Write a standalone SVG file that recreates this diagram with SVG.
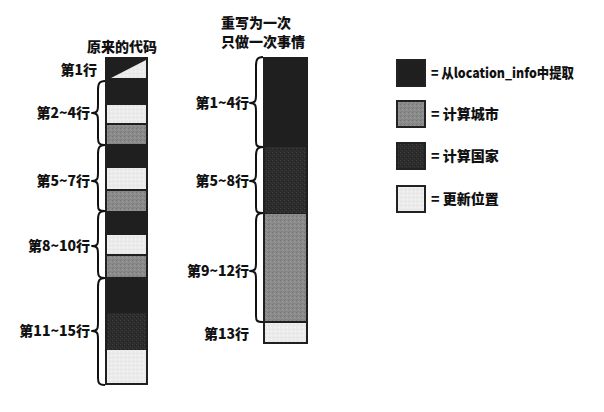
<svg xmlns="http://www.w3.org/2000/svg" width="604" height="412" viewBox="0 0 604 412">
<style>
text{font-family:"Noto Sans CJK SC","Noto Sans",sans-serif;font-weight:900;font-size:14px;fill:#111}
.lab{text-anchor:end}
.brace{fill:none;stroke:#111;stroke-width:2;stroke-linejoin:round}
.col{fill:#1f1f1f}
.leg{stroke:#222;stroke-width:2}
</style>
<defs>
<pattern id="pCity" width="4" height="4" patternUnits="userSpaceOnUse">
<rect width="4" height="4" fill="#8a8a8a"/>
<rect x="0" y="0" width="1" height="1" fill="#737373"/>
<rect x="2" y="1" width="1" height="1" fill="#9c9c9c"/>
<rect x="1" y="3" width="1" height="1" fill="#7c7c7c"/>
<rect x="3" y="2" width="1" height="1" fill="#959595"/>
</pattern>
<pattern id="pCountry" width="4" height="4" patternUnits="userSpaceOnUse">
<rect width="4" height="4" fill="#2c2c2c"/>
<rect x="0" y="0" width="1" height="1" fill="#404040"/>
<rect x="2" y="2" width="1" height="1" fill="#393939"/>
<rect x="3" y="1" width="1" height="1" fill="#202020"/>
</pattern>
<pattern id="pUpd" width="4" height="4" patternUnits="userSpaceOnUse">
<rect width="4" height="4" fill="#ebebeb"/>
<rect x="1" y="1" width="1" height="1" fill="#dedede"/>
<rect x="3" y="3" width="1" height="1" fill="#f6f6f6"/>
</pattern>
</defs>

<g id="title-left"><text x="122" y="52" style="text-anchor:middle">原来的代码</text></g>
<g id="title-right">
<text x="221" y="28">重写为一次</text>
<text x="221" y="47">只做一次事情</text>
</g>

<g id="col-original">
<rect class="col" x="105" y="57" width="43" height="328"/>
<polygon points="111,78 146,60 146,78" fill="url(#pUpd)"/>
<rect x="107" y="105" width="39" height="18" fill="url(#pUpd)"/>
<rect x="107" y="125" width="39" height="19" fill="url(#pCity)"/>
<rect x="107" y="168" width="39" height="21" fill="url(#pUpd)"/>
<rect x="107" y="191" width="39" height="20" fill="url(#pCity)"/>
<rect x="107" y="235" width="39" height="19" fill="url(#pUpd)"/>
<rect x="107" y="256" width="39" height="21" fill="url(#pCity)"/>
<rect x="107" y="313" width="39" height="37" fill="url(#pCountry)"/>
<rect x="107" y="350" width="39" height="33" fill="url(#pUpd)"/>
</g>

<g id="col-rewritten">
<rect class="col" x="263" y="57" width="45" height="287"/>
<rect x="265" y="147" width="41" height="66" fill="url(#pCountry)"/>
<rect x="265" y="214" width="41" height="107" fill="url(#pCity)"/>
<rect x="265" y="323" width="41" height="19" fill="url(#pUpd)"/>
</g>

<g id="labels-left">
<text x="97" y="75" class="lab">第1行</text>
<text x="90" y="118" class="lab">第2~4行</text>
<text x="90" y="186" class="lab">第5~7行</text>
<text x="90" y="251" class="lab">第8~10行</text>
<text x="90" y="336" class="lab">第11~15行</text>
</g>
<g id="labels-right">
<text x="249" y="108" class="lab">第1~4行</text>
<text x="249" y="186" class="lab">第5~8行</text>
<text x="249" y="276" class="lab">第9~12行</text>
<text x="249" y="339" class="lab">第13行</text>
</g>

<g id="connectors">
<path class="brace" d="M105 81 C99 81 98 84 98 90 L98 104 C98 110 98 113 92 113 C98 113 98 116 98 122 L98 138 C98 143 99 145 105 145"/>
<path class="brace" d="M105 145 C99 145 98 148 98 154 L98 172 C98 178 98 181 92 181 C98 181 98 184 98 190 L98 205 C98 210 99 211 105 211"/>
<path class="brace" d="M105 211 C99 211 98 214 98 220 L98 238 C98 244 98 246 92 246 C98 246 98 249 98 255 L98 271 C98 276 99 278 105 278"/>
<path class="brace" d="M105 278 C99 278 98 281 98 287 L98 322 C98 328 98 331 92 331 C98 331 98 334 98 340 L98 378 C98 383 99 385 105 385"/>
<path class="brace" d="M263 57 C257 57 256 60 256 66 L256 94 C256 100 256 103 250 103 C256 103 256 106 256 112 L256 141 C256 146 257 147 263 147"/>
<path class="brace" d="M263 147 C257 147 256 150 256 156 L256 172 C256 178 256 181 250 181 C256 181 256 184 256 190 L256 207 C256 212 257 213 263 213"/>
<path class="brace" d="M263 213 C257 213 256 216 256 222 L256 262 C256 268 256 271 250 271 C256 271 256 274 256 280 L256 316 C256 321 257 322 263 322"/>
</g>

<g id="legend-extract">
<rect class="leg" x="397" y="60" width="28" height="26" fill="#1f1f1f"/>
<text x="431" y="78" textLength="143" lengthAdjust="spacingAndGlyphs">= 从location_info中提取</text>
</g>
<g id="legend-city">
<rect class="leg" x="397" y="101" width="28" height="26" fill="url(#pCity)"/>
<text x="431" y="119">= 计算城市</text>
</g>
<g id="legend-country">
<rect class="leg" x="397" y="143" width="28" height="26" fill="url(#pCountry)"/>
<text x="431" y="161">= 计算国家</text>
</g>
<g id="legend-update">
<rect class="leg" x="397" y="186" width="28" height="26" fill="url(#pUpd)"/>
<text x="431" y="204">= 更新位置</text>
</g>
</svg>
